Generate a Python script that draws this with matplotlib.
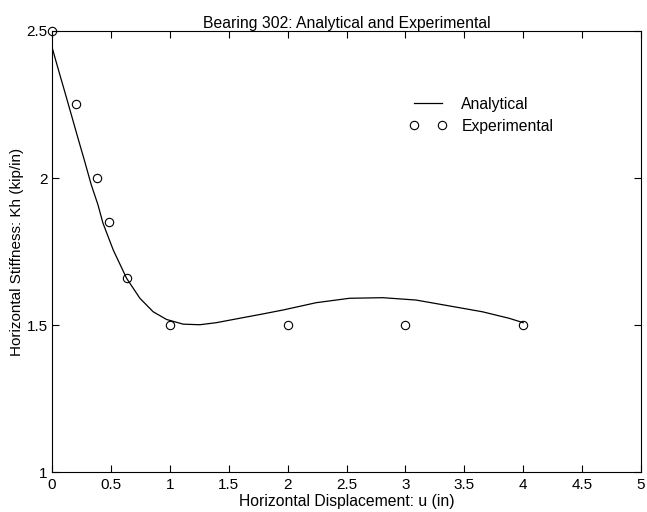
import matplotlib.pyplot as plt

plt.rcParams['font.family'] = ['Liberation Sans', 'DejaVu Sans']

# analytical curve
ana_u = [0.0, 0.05, 0.107, 0.164, 0.22, 0.277, 0.333, 0.39, 0.432, 0.52, 0.633,
         0.746, 0.859, 0.972, 1.113, 1.254, 1.395, 1.593, 1.78, 1.96, 2.243, 2.525,
         2.808, 3.09, 3.373, 3.655, 3.88, 4.0]
ana_k = [2.445, 2.374, 2.295, 2.215, 2.136, 2.057, 1.977, 1.909, 1.847, 1.755, 1.659,
         1.591, 1.545, 1.519, 1.503, 1.501, 1.508, 1.523, 1.537, 1.551, 1.576, 1.591,
         1.593, 1.585, 1.565, 1.545, 1.523, 1.508]

# experimental points
exp_u = [0, 0.2, 0.38, 0.48, 0.64, 1, 2, 3, 4]
exp_k = [2.5, 2.25, 2.0, 1.85, 1.66, 1.5, 1.5, 1.5, 1.5]

xticks = [0, 0.5, 1, 1.5, 2, 2.5, 3, 3.5, 4, 4.5, 5]
xticklabels = ['0', '0.5', '1', '1.5', '2', '2.5', '3', '3.5', '4', '4.5', '5']
yticks = [1, 1.5, 2, 2.5]
yticklabels = ['1', '1.5', '2', '2.5']

fs = 11.3

fig = plt.figure(figsize=(6.47, 5.12), dpi=100)
ax = fig.add_axes([0.0804, 0.078, 0.9103, 0.8615])

ax.plot(ana_u, ana_k, color='black', linewidth=0.9, label='Analytical')
ax.plot(exp_u, exp_k, linestyle='none', marker='o', markersize=6,
        markerfacecolor='none', markeredgecolor='black', markeredgewidth=0.8,
        label='Experimental', clip_on=False)

ax.set_xlim(0, 5)
ax.set_ylim(1, 2.5)
ax.set_xticks(xticks)
ax.set_xticklabels(xticklabels)
ax.set_yticks(yticks)
ax.set_yticklabels(yticklabels)
ax.tick_params(axis='both', direction='in', top=True, right=True, length=5,
               width=0.8, labelsize=11)
ax.tick_params(axis='x', pad=4)
ax.tick_params(axis='y', pad=3)
for sp in ax.spines.values():
    sp.set_linewidth(0.8)

ax.set_title('Bearing 302: Analytical and Experimental', fontsize=fs, pad=2)
ax.set_xlabel('Horizontal Displacement: u (in)', fontsize=fs, labelpad=1.5)
ax.set_ylabel('Horizontal Stiffness: Kh (kip/in)', fontsize=11, labelpad=2)

ax.legend(loc='upper left', bbox_to_anchor=(0.583, 0.883), frameon=False,
          fontsize=fs, numpoints=2, handlelength=2.4, handletextpad=0.9,
          labelspacing=0.45)

fig.savefig('out.png', dpi=100)
